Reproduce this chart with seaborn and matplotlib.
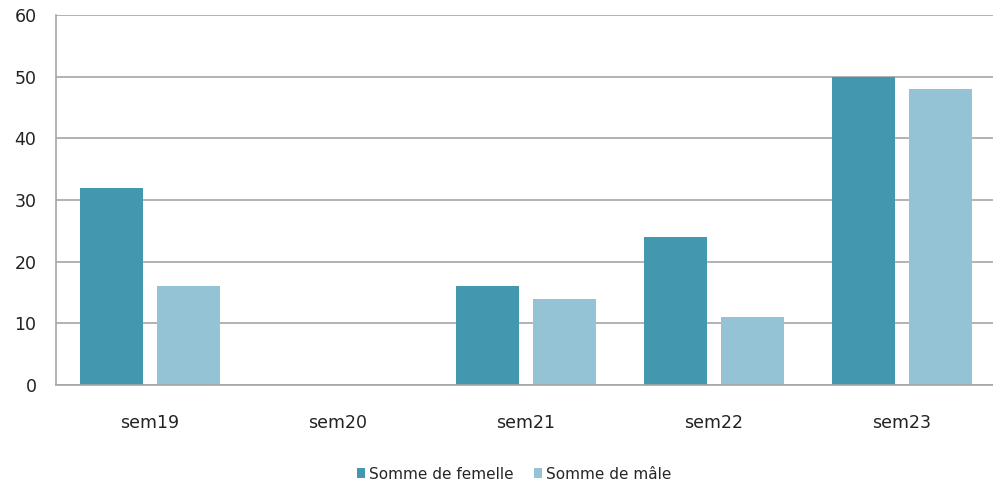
import matplotlib
matplotlib.use("Agg")
import matplotlib.pyplot as plt
import seaborn as sns
import pandas as pd

categories = ["sem19", "sem20", "sem21", "sem22", "sem23"]
femelle = [32, 0, 16, 24, 50]
male = [16, 0, 14, 11, 48]
series = ["Somme de femelle", "Somme de mâle"]
colors = ["#4398B0", "#93C3D4"]

df = pd.DataFrame({
    "cat": categories * 2,
    "val": femelle + male,
    "serie": [series[0]] * len(categories) + [series[1]] * len(categories),
})

sns.set_style("white")
plt.rcParams['font.family'] = ['DejaVu Sans']
fig = plt.figure(figsize=(9.93, 4.86), dpi=100)
ax = fig.add_axes([56/993, 1-385/486, 940/993, 370/486])

sns.barplot(data=df, x="cat", y="val", hue="serie", palette=colors,
            width=0.82, gap=0.18, ax=ax, saturation=1, legend=True,
            linewidth=0)

ax.set_ylim(0, 60)
ax.set_yticks(range(0, 61, 10))
ax.set_xlim(-0.5, 4.5)
ax.yaxis.grid(True, color="#A6A6A6", linewidth=1.2)
ax.set_axisbelow(True)
for s in ["top", "right"]:
    ax.spines[s].set_visible(False)
for s in ["left", "bottom"]:
    ax.spines[s].set_color("#A6A6A6")
    ax.spines[s].set_linewidth(1.2)
ax.set_xlabel("")
ax.set_ylabel("")
ax.tick_params(axis="y", length=0, pad=14, labelsize=12.5, labelcolor="#222222")
ax.tick_params(axis="x", length=0, pad=21, labelsize=12.5, labelcolor="#222222")

handles, labels = ax.get_legend_handles_labels()
ax.legend_.remove()
fig.legend(handles, labels, loc="center", bbox_to_anchor=(514/993, 1-474/486),
           ncol=2, frameon=False, fontsize=11, handlelength=0.55, handleheight=0.55,
           handletextpad=0.25, columnspacing=1.3)

fig.savefig("out.png", dpi=100)
